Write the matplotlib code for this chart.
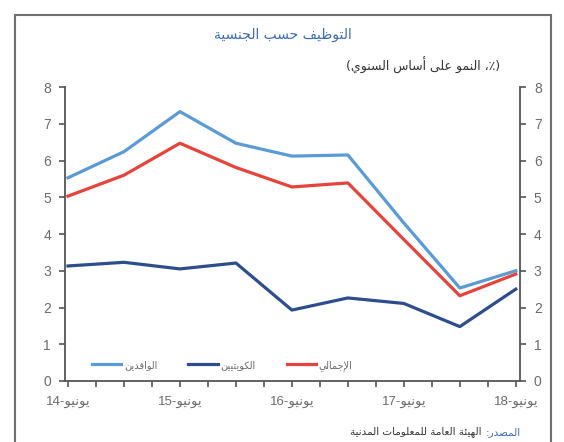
import matplotlib
matplotlib.use("Agg")
import matplotlib.pyplot as plt
from matplotlib.lines import Line2D
from matplotlib.patches import Rectangle

# DATA (growth, % y/y, semi-annual: Jun-14 .. Jun-18)
months = [0, 6, 12, 18, 24, 30, 36, 42, 48]
expats = [5.53, 6.24, 7.33, 6.47, 6.12, 6.15, 4.30, 2.53, 3.00]
kuwaitis = [3.13, 3.23, 3.05, 3.21, 1.93, 2.26, 2.11, 1.48, 2.50]
total = [5.03, 5.60, 6.47, 5.81, 5.28, 5.39, 3.85, 2.32, 2.91]
years = ["14", "15", "16", "17", "18"]
month_name = "يونيو"
series_names = ["الوافدين", "الكويتيين", "الإجمالي"]
title = "التوظيف حسب الجنسية"
subtitle = "(٪، النمو على أساس السنوي)"
source_lbl = "المصدر:"
source_txt = "الهيئة العامة للمعلومات المدنية"

# simple arabic shaping (matplotlib has no bidi / joining)
DUAL = {"ئ": 0xFE89, "ب": 0xFE8F, "ت": 0xFE95, "ث": 0xFE99, "ج": 0xFE9D,
        "ح": 0xFEA1, "خ": 0xFEA5, "س": 0xFEB1, "ش": 0xFEB5, "ص": 0xFEB9,
        "ض": 0xFEBD, "ط": 0xFEC1, "ظ": 0xFEC5, "ع": 0xFEC9, "غ": 0xFECD,
        "ف": 0xFED1, "ق": 0xFED5, "ك": 0xFED9, "ل": 0xFEDD, "م": 0xFEE1,
        "ن": 0xFEE5, "ه": 0xFEE9, "ي": 0xFEF1}
RIGHT = {"آ": 0xFE81, "أ": 0xFE83, "ؤ": 0xFE85, "إ": 0xFE87, "ا": 0xFE8D,
         "ة": 0xFE93, "د": 0xFEA9, "ذ": 0xFEAB, "ر": 0xFEAD, "ز": 0xFEAF,
         "و": 0xFEED, "ى": 0xFEEF}
LAMALEF = {"آ": 0xFEF5, "أ": 0xFEF7, "إ": 0xFEF9, "ا": 0xFEFB}
MIRROR = {"(": ")", ")": "("}


def ar(s):
    out = []
    i = 0
    n = len(s)
    while i < n:
        c = s[i]
        prev = s[i - 1] if i > 0 else ""
        joins_prev = prev in DUAL
        nxt = s[i + 1] if i + 1 < n else ""
        if c == "ل" and nxt in LAMALEF:
            out.append(chr(LAMALEF[nxt] + (1 if joins_prev else 0)))
            i += 2
            continue
        joins_next = c in DUAL and (nxt in DUAL or nxt in RIGHT)
        if c in DUAL:
            b = DUAL[c]
            if joins_prev and joins_next:
                out.append(chr(b + 3))
            elif joins_prev:
                out.append(chr(b + 1))
            elif joins_next:
                out.append(chr(b + 2))
            else:
                out.append(chr(b))
        elif c in RIGHT:
            out.append(chr(RIGHT[c] + (1 if joins_prev else 0)))
        else:
            out.append(MIRROR.get(c, c))
        i += 1
    return "".join(reversed(out))


AR = ["DejaVu Sans"]
NUM = ["Liberation Sans", "DejaVu Sans"]
light = "#5b9bd5"
dark = "#2e4d8c"
red = "#e5443c"
grey = "#6b6b6b"

fig = plt.figure(figsize=(5.64, 4.42), dpi=100)
fig.patch.set_facecolor("white")

# outer frame
fig.add_artist(Rectangle((15 / 564, -0.05), (551 - 15) / 564, 1.05 - 15 / 442,
                         transform=fig.transFigure, fill=False,
                         edgecolor="#707070", linewidth=1.5))

ax = fig.add_axes([65 / 564, 1 - 381 / 442, (520 - 65) / 564, (381 - 87) / 442])
ax.plot(months, expats, color=light, lw=2.3)
ax.plot(months, kuwaitis, color=dark, lw=2.3)
ax.plot(months, total, color=red, lw=2.3)

ax.set_xlim(-0.32, 48.45)
ax.set_ylim(0, 8)
ax.set_yticks(range(0, 9))
ax.set_xticks(range(0, 49, 3), minor=True)
ax.set_xticks(months[::2])
ax.set_xticklabels([y + "-" + ar(month_name) for y in years], family=NUM,
                   fontsize=9.5, color=grey)
ax.tick_params(axis="y", which="both", left=True, right=True, labelleft=True,
               labelright=True, direction="out", length=4, width=1.2,
               color="#555555", labelcolor=grey, labelsize=10, pad=6)
ax.tick_params(axis="x", which="both", direction="out", length=4, width=1.2,
               color="#555555", pad=7)
for lbl in ax.get_yticklabels():
    lbl.set_family(NUM)
ax.spines["top"].set_visible(False)
for s in ["left", "right", "bottom"]:
    ax.spines[s].set_color("#555555")
    ax.spines[s].set_linewidth(1.3)

handles = [Line2D([], [], color=c, lw=2.3) for c in (light, dark, red)]
leg = ax.legend(handles, [ar(s) for s in series_names], ncol=3, frameon=False,
                loc="lower left", bbox_to_anchor=(0.04, 0.005),
                handlelength=3.0, handletextpad=0.3, columnspacing=3.2,
                prop={"family": AR, "size": 7})
for t in leg.get_texts():
    t.set_color(grey)

fig.text(283 / 564, 1 - 35 / 442, ar(title), family=AR, fontsize=10,
         color="#3a6db0", ha="center", va="center")
fig.text(500 / 564, 1 - 65 / 442, ar(subtitle), family=AR, fontsize=9,
         color="#333333", ha="right", va="center")
fig.text(521 / 564, 1 - 432 / 442, ar(source_lbl), family=AR, fontsize=7.5,
         color="#3a6db0", ha="right", va="center")
fig.text(482 / 564, 1 - 432 / 442, ar(source_txt), family=AR, fontsize=7.5,
         color="#333333", ha="right", va="center")

fig.savefig("out.png", dpi=100, facecolor="white")
